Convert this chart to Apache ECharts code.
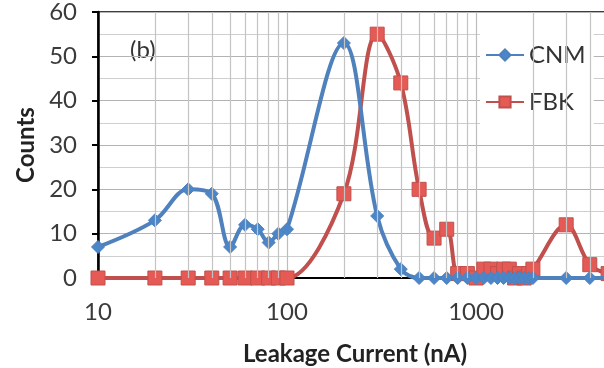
<!DOCTYPE html>
<html>
<head>
<meta charset="utf-8">
<script src="https://cdn.jsdelivr.net/npm/echarts@6/dist/echarts.min.js"></script>
<style>
html,body{margin:0;padding:0;background:#fff;}
#chart{width:604px;height:368px;}
</style>
</head>
<body>
<div id="chart"></div>
<script>
// ---- data ----
const cnmX = [10,20,30,40,50,60,70,80,90,100,200,300,400,500,600,700,800,900,1000,1100,1200,1300,1400,1500,1600,1700,1800,1900,2000,3000,4000,5000];
const cnmY = [7,13,20,19,7,12,11,8,10,11,53,14,2,0,0,0,0,0,0,0,0,0,0,0,0,0,0,0,0,0,0,0];
const fbkX = [10,20,30,40,50,60,70,80,90,100,200,300,400,500,600,700,800,900,1000,1100,1200,1300,1400,1500,1600,1700,1800,1900,2000,3000,4000,5000];
const fbkY = [0,0,0,0,0,0,0,0,0,0,19,55,44,20,9,11,1,1,0,2,2,1,2,2,0,1,0,1,2,12,3,1];
const seriesNames = ['CNM','FBK'];
const yTicks = [0,10,20,30,40,50,60];
const xMinorGrid = [20,30,40,50,60,70,80,90,200,300,400,500,600,700,800,900,2000,3000,4000,5000,6000,7000,8000,9000];
const panelLabel = '(b)';
const xTitle = 'Leakage Current (nA)';
const yTitle = 'Counts';

const FONT = 'Lato';
const chart = echarts.init(document.getElementById('chart'), null, {renderer:'canvas'});
const pairs = (xs, ys) => xs.map((x,i)=>[x, ys[i]]);

chart.setOption({
  animation:false,
  backgroundColor:'#fff',
  textStyle:{fontFamily:FONT},
  grid:{left:98, top:12, right:-61, bottom:90, show:true, borderColor:'#000', borderWidth:1.5, backgroundColor:'transparent', outerBoundsMode:'none'},
  xAxis:{
    type:'log', logBase:10, min:10, max:10000,
    axisLine:{show:true, onZero:false, lineStyle:{color:'#000', width:2}},
    axisTick:{show:false},
    axisLabel:{color:'#3a3a3a', fontSize:24, margin:22, fontFamily:FONT, formatter:v=>String(Math.round(v))},
    splitLine:{show:true, lineStyle:{color:'#bdbdbd', width:1.2}},
    minorTick:{show:false}, minorSplitLine:{show:false}
  },
  yAxis:{
    type:'value', min:yTicks[0], max:yTicks[yTicks.length-1], interval:10,
    name:yTitle, nameLocation:'middle', nameGap:60,
    nameTextStyle:{fontSize:24, fontWeight:'bold', color:'#222', fontFamily:FONT},
    axisLine:{show:true, lineStyle:{color:'#000', width:2.5}},
    axisTick:{show:true, inside:false, length:6, lineStyle:{color:'#000', width:2}},
    axisLabel:{color:'#3a3a3a', fontSize:24, margin:21, fontFamily:FONT},
    splitLine:{show:true, lineStyle:{color:'#b4b4b4', width:1.2}},
    minorTick:{show:false, splitNumber:2},
    minorSplitLine:{show:true, lineStyle:{color:'#cfcfcf', width:1.2}}
  },
  legend:{
    orient:'vertical', left:480, top:33,
    backgroundColor:'#fff', padding:[10,8,14,5],
    itemWidth:38, itemHeight:14, itemGap:23,
    textStyle:{fontSize:24, lineHeight:24, color:'#333', fontFamily:FONT},
    data:seriesNames
  },
  graphic:[
    {type:'text', x:130, y:50, style:{text:panelLabel, fontSize:24, fill:'#333', fontFamily:FONT, align:'left', verticalAlign:'middle'}},
    {type:'text', x:355, y:354, style:{text:xTitle, fontSize:24, fontWeight:'bold', fill:'#222', fontFamily:FONT, align:'center', verticalAlign:'middle'}}
  ],
  series:[
    {
      name:'grid', type:'line', data:[], silent:true, z:1,
      markLine:{silent:true, symbol:'none', label:{show:false},
        lineStyle:{color:'#c4c4c4', width:1.2, type:'solid'},
        data:xMinorGrid.map(v=>({xAxis:v}))}
    },
    {
      name:seriesNames[0], type:'line', data:pairs(cnmX,cnmY), smooth:0.35,
      symbol:'diamond', symbolSize:13, z:4,
      lineStyle:{color:'#4f81bd', width:4},
      itemStyle:{color:'#4a86c8', borderColor:'#4f81bd', borderWidth:1}
    },
    {
      name:seriesNames[1], type:'line', data:pairs(fbkX,fbkY), smooth:0.35,
      symbol:'rect', symbolSize:14, z:3,
      lineStyle:{color:'#c0504d', width:4},
      itemStyle:{color:'#e55a55', borderColor:'#c0504d', borderWidth:1}
    }
  ]
});
</script>
</body>
</html>
